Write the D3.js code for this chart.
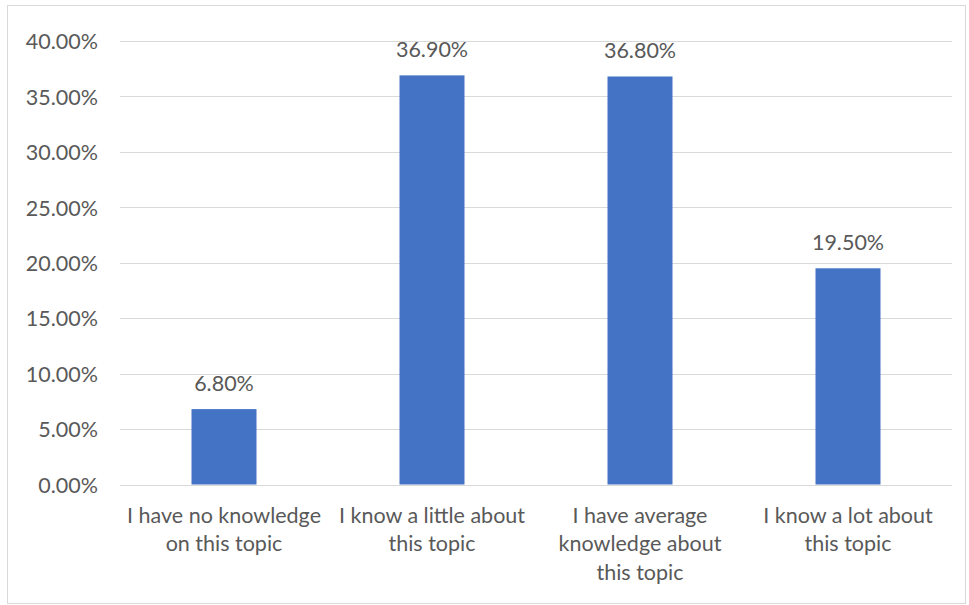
<!DOCTYPE html>
<html><head><meta charset="utf-8">
<script src="https://cdn.jsdelivr.net/npm/d3@7"></script>
<style>body{margin:0;background:#fff}svg{display:block}</style>
</head><body>
<script>
const categories = [
  ["I have no knowledge", "on this topic"],
  ["I know a little about", "this topic"],
  ["I have average", "knowledge about", "this topic"],
  ["I know a lot about", "this topic"]
];
const values = [0.068, 0.369, 0.368, 0.195];
const yTicks = [0, 0.05, 0.10, 0.15, 0.20, 0.25, 0.30, 0.35, 0.40];

const W = 969, H = 605;
const font = "Lato, sans-serif";
const fs = 21.5;
const txt = "#595959";
const svg = d3.select("body").append("svg").attr("width", W).attr("height", H);
svg.append("rect").attr("x", 7.5).attr("y", 5.5).attr("width", 958).attr("height", 598)
  .attr("fill", "#fff").attr("stroke", "#d9d9d9");

const x = d3.scaleBand().domain(d3.range(categories.length)).range([120, 952]).paddingInner(0).paddingOuter(0);
const y = d3.scaleLinear().domain([0, 0.4]).range([484.5, 41]);
const bw = x.bandwidth() * 0.3125;

const g = svg.append("g");
g.selectAll("line.grid").data(yTicks).join("line")
  .attr("x1", 120).attr("x2", 952).attr("y1", d => Math.round(y(d)) + 0.5).attr("y2", d => Math.round(y(d)) + 0.5)
  .attr("stroke", "#d9d9d9").attr("stroke-width", 1);

const yAxis = d3.axisLeft(y).tickValues(yTicks).tickFormat(d => (d * 100).toFixed(2) + "%").tickSize(0).tickPadding(0);
const ya = svg.append("g").attr("transform", "translate(98,0)").call(yAxis);
ya.select(".domain").remove();
ya.selectAll("text").attr("fill", txt).attr("font-family", font).attr("font-size", fs).attr("dy", "0.36em");

g.selectAll("rect.bar").data(values).join("rect")
  .attr("x", (d, i) => x(i) + x.bandwidth() / 2 - bw / 2)
  .attr("width", bw)
  .attr("y", d => y(d))
  .attr("height", d => y(0) - y(d))
  .attr("fill", "#4472c4");

g.selectAll("text.lbl").data(values).join("text")
  .attr("x", (d, i) => x(i) + x.bandwidth() / 2)
  .attr("y", d => y(d) - 18.5)
  .attr("text-anchor", "middle").attr("fill", txt).attr("font-family", font).attr("font-size", fs)
  .text(d => (d * 100).toFixed(2) + "%");

const cl = g.selectAll("text.cat").data(categories).join("text")
  .attr("text-anchor", "middle").attr("fill", txt).attr("font-family", font).attr("font-size", fs);
cl.selectAll("tspan").data((d, i) => d.map(s => ({s, i}))).join("tspan")
  .attr("x", d => x(d.i) + x.bandwidth() / 2)
  .attr("y", (d, j) => 522.5 + j * 28.5)
  .text(d => d.s);
</script>
</body></html>
